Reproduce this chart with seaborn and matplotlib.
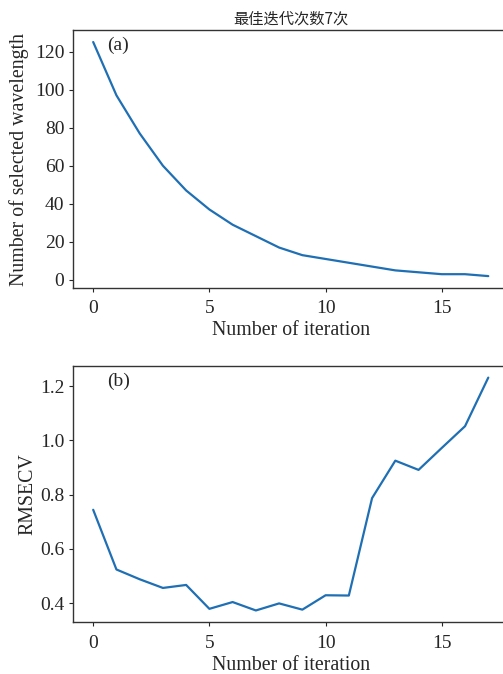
import matplotlib
matplotlib.use("Agg")
import matplotlib.pyplot as plt
import seaborn as sns
import pandas as pd

iterations = list(range(18))
n_selected = [125, 97, 77, 60, 47, 37, 29, 23, 17, 13, 11, 9, 7, 5, 4, 3, 3, 2]
rmsecv = [0.744, 0.524, 0.488, 0.456, 0.467, 0.379, 0.404, 0.373, 0.399, 0.376,
          0.429, 0.428, 0.787, 0.925, 0.891, 0.972, 1.052, 1.231]

title_text = "最佳迭代次数7次"
xlabel = "Number of iteration"
ylabel_a = "Number of selected wavelength"
ylabel_b = "RMSECV"

sns.set_style("ticks")
plt.rcParams["font.family"] = ["Liberation Serif", "Noto Sans CJK SC", "DejaVu Sans"]
plt.rcParams["axes.linewidth"] = 1.0
plt.rcParams["xtick.labelsize"] = 14
plt.rcParams["ytick.labelsize"] = 14
plt.rcParams["xtick.major.size"] = 3
plt.rcParams["ytick.major.size"] = 3
plt.rcParams["xtick.major.pad"] = 6
plt.rcParams["ytick.major.pad"] = 3.5

df = pd.DataFrame({"iter": iterations, "n": n_selected, "rmsecv": rmsecv})

fig = plt.figure(figsize=(5.03, 6.74), dpi=100)
ax1 = fig.add_axes([0.146, 0.573, 0.864, 0.382])
ax2 = fig.add_axes([0.146, 0.077, 0.864, 0.380])

color = "#1f6fb4"
sns.lineplot(data=df, x="iter", y="n", ax=ax1, color=color, linewidth=1.6)
sns.lineplot(data=df, x="iter", y="rmsecv", ax=ax2, color=color, linewidth=1.6)

for ax in (ax1, ax2):
    for s in ax.spines.values():
        s.set_visible(True)
        s.set_color("#333333")
    ax.set_xticks([0, 5, 10, 15])
    ax.set_xlabel(xlabel, fontsize=14.3, labelpad=3)

ax1.set_yticks([0, 20, 40, 60, 80, 100, 120])
ax1.set_ylabel(ylabel_a, fontsize=14.3, labelpad=4)
ax2.set_yticks([0.4, 0.6, 0.8, 1.0, 1.2])
ax2.set_yticklabels(["0.4", "0.6", "0.8", "1.0", "1.2"])
ax2.set_ylabel(ylabel_b, fontsize=14.3, labelpad=2)

ax1.set_title(title_text, fontsize=11, family=["Noto Sans CJK SC", "DejaVu Sans"], pad=5)
ax1.text(0.077, 0.975, "(a)", transform=ax1.transAxes, fontsize=14, va="top", ha="left")
ax2.text(0.077, 0.975, "(b)", transform=ax2.transAxes, fontsize=14, va="top", ha="left")

fig.savefig("out.png", dpi=100)
